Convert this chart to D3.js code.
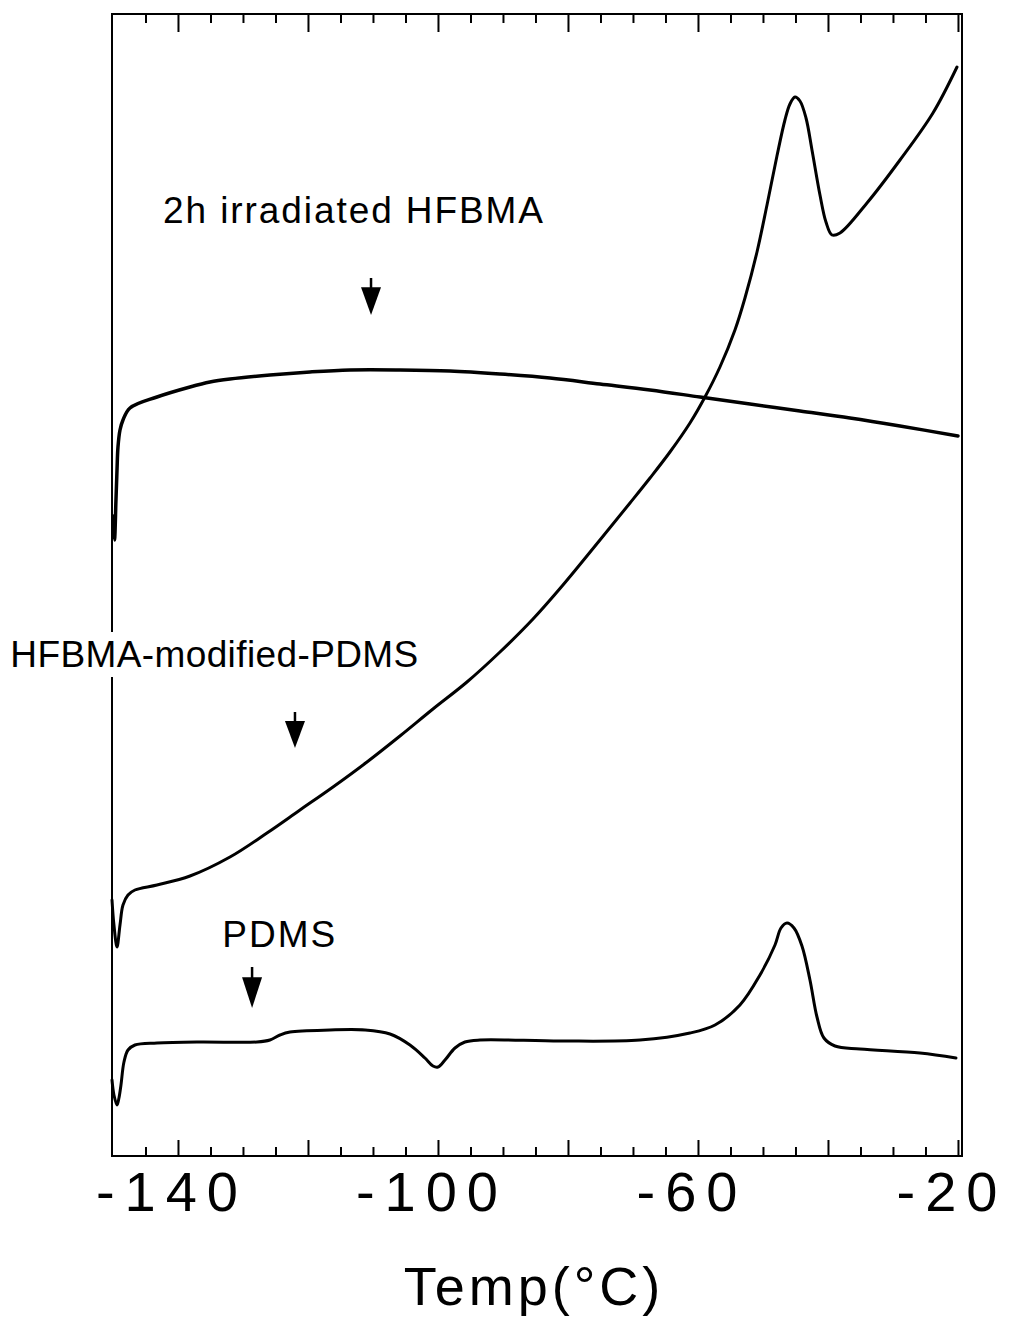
<!DOCTYPE html>
<html>
<head>
<meta charset="utf-8">
<script src="https://cdn.jsdelivr.net/npm/d3@7"></script>
<style>
  html, body { margin: 0; padding: 0; background: #fff; }
  svg { display: block; }
  text { font-family: "Liberation Sans", Arial, Helvetica, sans-serif; fill: #000; }
</style>
</head>
<body>
<svg id="chart" width="1010" height="1321"></svg>
<script>
// DSC traces: temperature (°C) vs. heat flow (arbitrary units, curves offset vertically)
const irradiatedTemp = [-150.0, -149.77, -149.54, -149.38, -149.23, -148.92, -148.46, -147.38, -143.23, -138.15,
  -135.08, -132.0, -125.85, -119.69, -113.54, -105.85, -98.15, -90.46, -82.77, -75.08,
  -67.38, -59.69, -52.0, -44.31, -36.62, -28.92, -20.0];
const irradiatedFlow = [64.0, 61.6, 65.6, 68.6, 70.9, 72.6, 73.6, 74.8, 75.9, 76.9,
  77.4, 77.7, 78.1, 78.4, 78.6, 78.6, 78.5, 78.2, 77.8, 77.2,
  76.6, 75.9, 75.2, 74.5, 73.8, 73.0, 72.0];

const modifiedTemp = [-150.15, -149.85, -149.38, -148.92, -148.46, -147.69, -146.62, -143.23, -138.15, -132.0,
  -126.31, -121.23, -116.15, -110.92, -105.85, -100.77, -95.54, -90.46, -85.38, -80.77,
  -75.08, -70.46, -67.38, -64.31, -61.23, -58.92, -56.62, -54.31, -52.77, -50.92,
  -49.38, -47.85, -46.62, -45.85, -45.08, -44.31, -43.38, -42.46, -41.23, -40.31,
  -39.38, -38.15, -34.0, -28.92, -23.85, -20.15];
const modifiedFlow = [25.6, 23.1, 20.9, 23.1, 25.1, 26.1, 26.6, 27.1, 28.0, 29.9,
  32.3, 34.6, 36.9, 39.4, 42.0, 44.7, 47.4, 50.4, 53.7, 57.1,
  61.6, 65.3, 67.8, 70.4, 73.3, 75.9, 78.9, 82.6, 85.8, 90.4,
  95.1, 100.0, 103.6, 105.2, 105.9, 105.5, 103.8, 100.6, 96.1, 93.4,
  92.1, 92.3, 95.3, 99.6, 104.3, 108.9];

const pdmsTemp = [-150.15, -149.85, -149.38, -149.08, -148.77, -148.31, -147.69, -146.62, -143.23, -136.62,
  -127.85, -125.85, -124.31, -122.77, -116.62, -111.23, -107.38, -104.31, -102.0, -100.77,
  -100.0, -98.92, -97.38, -95.85, -93.54, -81.23, -68.92, -61.23, -57.38, -53.54,
  -50.46, -48.15, -47.23, -46.31, -45.23, -44.0, -42.77, -41.69, -40.62, -38.92,
  -35.08, -25.85, -20.31];
const pdmsFlow = [7.6, 6.1, 5.1, 5.8, 7.1, 9.4, 10.6, 11.1, 11.3, 11.4,
  11.4, 11.6, 12.1, 12.4, 12.6, 12.6, 12.2, 11.1, 9.8, 9.0,
  8.9, 9.6, 10.8, 11.4, 11.6, 11.5, 11.6, 12.3, 13.1, 15.1,
  18.1, 21.1, 22.8, 23.3, 22.8, 21.0, 17.6, 13.9, 11.8, 11.0,
  10.7, 10.3, 9.8];

// Labels and glass-transition arrows (temperature, heat flow)
const labelText = ["2h irradiated HFBMA", "HFBMA-modified-PDMS", "PDMS"];
const labelTemp = [-142.3, -165.8, -133.2];
const labelFlow = [93.3, 48.9, 20.9];
const labelWidth = [380, 408, 113];
const arrowTemp = [-110.3, -122.0, -128.6];
const arrowTop = [87.8, 44.4, 18.9];
const arrowTip = [84.1, 40.8, 14.8];

const majorTicks = [-140, -100, -60, -20];
const tickLabels = ["-140", "-100", "-60", "-20"];
const xTitle = "Temp(°C)";

const svg = d3.select("#chart");
const plot = { left: 112, right: 962, top: 14, bottom: 1156 };

const x = d3.scaleLinear().domain([-150.15, -19.38]).range([plot.left, plot.right]);
const y = d3.scaleLinear().domain([0, 114.2]).range([plot.bottom, plot.top]);

const minorTicks = d3.range(-145, -19, 5).filter(v => v % 20 !== 0);
const majorAll = d3.range(-140, -19, 20);

// Inward ticks on the top and bottom edges
svg.append("g").attr("transform", `translate(0,${plot.bottom})`)
  .call(d3.axisBottom(x).tickValues(minorTicks).tickSizeInner(-9).tickSizeOuter(0).tickFormat(""));
svg.append("g").attr("transform", `translate(0,${plot.bottom})`)
  .call(d3.axisBottom(x).tickValues(majorAll).tickSizeInner(-16).tickSizeOuter(0).tickFormat(""));
svg.append("g").attr("transform", `translate(0,${plot.top})`)
  .call(d3.axisTop(x).tickValues(minorTicks).tickSizeInner(-9).tickSizeOuter(0).tickFormat(""));
svg.append("g").attr("transform", `translate(0,${plot.top})`)
  .call(d3.axisTop(x).tickValues(majorAll).tickSizeInner(-18).tickSizeOuter(0).tickFormat(""));
svg.selectAll(".domain").remove();
svg.selectAll(".tick line").attr("stroke", "#000").attr("stroke-width", 2);

// Frame
svg.append("rect")
  .attr("x", plot.left).attr("y", plot.top)
  .attr("width", plot.right - plot.left).attr("height", plot.bottom - plot.top)
  .attr("fill", "none").attr("stroke", "#000").attr("stroke-width", 2);

// Tick labels
svg.append("g").selectAll("text").data(majorTicks).join("text")
  .attr("x", d => x(d) - 6)
  .attr("y", 1211)
  .attr("text-anchor", "middle")
  .attr("font-size", 56)
  .attr("letter-spacing", 10)
  .text((d, i) => tickLabels[i]);

svg.append("text")
  .attr("x", 534).attr("y", 1305)
  .attr("text-anchor", "middle")
  .attr("font-size", 54)
  .attr("letter-spacing", 4)
  .text(xTitle);

// Curves
const line = d3.line()
  .x(d => x(d[0])).y(d => y(d[1]))
  .curve(d3.curveCatmullRom.alpha(0.5));

const series = [
  { temp: irradiatedTemp, flow: irradiatedFlow, width: 3.5 },
  { temp: modifiedTemp, flow: modifiedFlow, width: 3 },
  { temp: pdmsTemp, flow: pdmsFlow, width: 3 }
];

svg.append("g").selectAll("path").data(series).join("path")
  .attr("d", s => line(s.temp.map((t, i) => [t, s.flow[i]])))
  .attr("fill", "none")
  .attr("stroke", "#000")
  .attr("stroke-width", s => s.width)
  .attr("stroke-linejoin", "round")
  .attr("stroke-linecap", "round");

// Labels on a white backing so the frame is interrupted behind them
const labels = svg.append("g");
labelText.forEach((t, i) => {
  const bg = labels.append("rect").attr("fill", "#fff");
  const txt = labels.append("text")
    .attr("x", x(labelTemp[i]))
    .attr("y", y(labelFlow[i]))
    .attr("text-anchor", "start")
    .attr("font-size", 37)
    .attr("textLength", labelWidth[i])
    .attr("lengthAdjust", "spacing")
    .text(t);
  const b = txt.node().getBBox();
  bg.attr("x", b.x - 2).attr("y", b.y - 2).attr("width", b.width + 4).attr("height", b.height + 4);
});

// Arrows: thin shaft plus solid head
const arrows = svg.append("g");
arrowTemp.forEach((t, i) => {
  const ax = x(t), y0 = y(arrowTop[i]), y1 = y(arrowTip[i]);
  const headH = (y1 - y0) * 0.75;
  arrows.append("line")
    .attr("x1", ax).attr("x2", ax).attr("y1", y0).attr("y2", y1 - headH + 2)
    .attr("stroke", "#000").attr("stroke-width", 2.5);
  arrows.append("path")
    .attr("d", `M${ax - 10},${y1 - headH} L${ax + 10},${y1 - headH} L${ax},${y1} Z`)
    .attr("fill", "#000");
});
</script>
</body>
</html>
